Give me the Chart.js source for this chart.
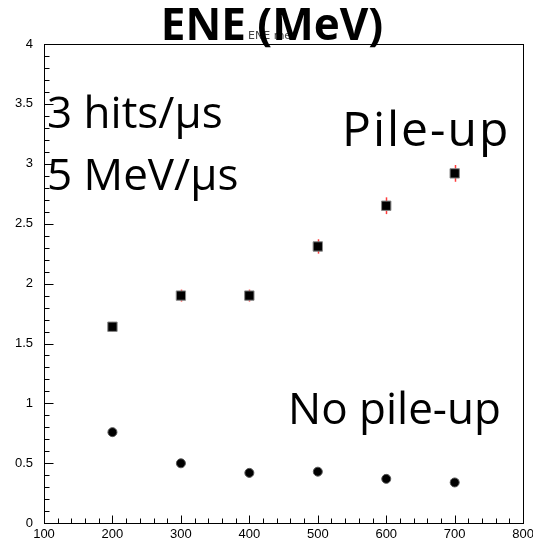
<!DOCTYPE html>
<html lang="en">
<head>
  <meta charset="UTF-8" />
  <title>ENE (MeV)</title>
  <script src="https://cdn.jsdelivr.net/npm/chart.js@4.4.8/dist/chart.umd.min.js"></script>
  <style>
    body { margin: 0; background: #fff; }
    #wrap { position: relative; width: 533px; height: 540px; overflow: hidden; }
    .note {
      position: absolute;
      white-space: nowrap;
      line-height: 1;
      font-family: 'Open Sans', sans-serif;
      font-size: 44px;
      color: #000;
    }
  </style>
</head>
<body>
  <div id="wrap">
    <!-- canvas a little larger than the window so the last x label gets cut like the original -->
    <canvas id="eneChart" width="537" height="542"></canvas>
    <div class="note" style="left:248px; top:30px; font-family:'DejaVu Sans',sans-serif; font-size:11px; color:#444;">ENE mev</div>
    <div class="note" style="left:272px; top:1px; transform:translateX(-50%); font-weight:700; font-size:44px;">ENE (MeV)</div>
    <div class="note" style="left:47px; top:89px;">3 hits/µs</div>
    <div class="note" style="left:47px; top:151px;">5 MeV/µs</div>
    <div class="note" style="left:342px; top:104px; font-size:48px; letter-spacing:2px;">Pile-up</div>
    <div class="note" style="left:288px; top:385px;">No pile-up</div>
  </div>

  <script>
    // values
    const energies  = [200, 300, 400, 500, 600, 700];
    const pileUp    = [1.64, 1.90, 1.90, 2.31, 2.65, 2.92];
    const pileUpErr = [0.04, 0.05, 0.05, 0.06, 0.07, 0.07];
    const noPileUp  = [0.76, 0.50, 0.42, 0.43, 0.37, 0.34];

    const xRange = [100, 800];
    const yRange = [0, 4];
    const xMajor = 100, xMinor = 20;
    const yMajor = 0.5, yMinor = 0.1;

    // ROOT style frame, inward ticks and the red error bars
    const rootFrame = {
      id: 'rootFrame',
      beforeDatasetsDraw(chart) {
        const { ctx, scales: { x, y } } = chart;
        ctx.save();
        ctx.strokeStyle = '#ff3b3b';
        ctx.lineWidth = 1.5;
        energies.forEach((e, i) => {
          const px = Math.round(x.getPixelForValue(e)) + 0.5;
          ctx.beginPath();
          ctx.moveTo(px, y.getPixelForValue(pileUp[i] - pileUpErr[i]));
          ctx.lineTo(px, y.getPixelForValue(pileUp[i] + pileUpErr[i]));
          ctx.stroke();
        });
        ctx.restore();
      },
      afterDraw(chart) {
        const { ctx, chartArea: a, scales: { x, y } } = chart;
        ctx.save();
        ctx.strokeStyle = '#000';
        ctx.lineWidth = 1;
        const l = Math.round(a.left) + 0.5, r = Math.round(a.right) + 0.5;
        const t = Math.round(a.top) + 0.5, b = Math.round(a.bottom) + 0.5;
        ctx.strokeRect(l, t, r - l, b - t);
        ctx.beginPath();
        for (let v = xRange[0]; v <= xRange[1] + 1e-6; v += xMinor) {
          const px = Math.round(x.getPixelForValue(v)) + 0.5;
          const len = Math.abs(v / xMajor - Math.round(v / xMajor)) < 1e-6 ? 8 : 5;
          ctx.moveTo(px, b);
          ctx.lineTo(px, b - len);
        }
        for (let v = yRange[0]; v <= yRange[1] + 1e-6; v += yMinor) {
          const py = Math.round(y.getPixelForValue(v)) + 0.5;
          const len = Math.abs(v / yMajor - Math.round(v / yMajor)) < 1e-6 ? 9 : 5;
          ctx.moveTo(l, py);
          ctx.lineTo(l + len, py);
        }
        ctx.stroke();
        ctx.restore();
      }
    };

    const tickFont = { family: "'Liberation Sans', sans-serif", size: 13 };

    new Chart(document.getElementById('eneChart'), {
      type: 'scatter',
      data: {
        datasets: [
          {
            label: 'Pile-up',
            data: energies.map((e, i) => ({ x: e, y: pileUp[i] })),
            pointStyle: 'rect',
            pointRadius: 6.6,
            backgroundColor: '#000',
            borderColor: '#888',
            borderWidth: 1
          },
          {
            label: 'No pile-up',
            data: energies.map((e, i) => ({ x: e, y: noPileUp[i] })),
            pointStyle: 'circle',
            pointRadius: 4.5,
            backgroundColor: '#000',
            borderColor: '#555',
            borderWidth: 1
          }
        ]
      },
      options: {
        responsive: false,
        animation: false,
        layout: { autoPadding: false, padding: { top: 44, right: 10, left: 0, bottom: 0 } },
        plugins: {
          legend: { display: false },
          tooltip: { enabled: false },
          title: { display: false }
        },
        scales: {
          x: {
            type: 'linear',
            min: xRange[0],
            max: xRange[1],
            grid: { display: false, drawTicks: false },
            border: { display: false },
            ticks: { stepSize: xMajor, color: '#000', font: tickFont, padding: 3, maxRotation: 0 },
            afterFit(scale) { scale.height = 17; }
          },
          y: {
            min: yRange[0],
            max: yRange[1],
            grid: { display: false, drawTicks: false },
            border: { display: false },
            ticks: {
              stepSize: yMajor,
              color: '#000',
              font: tickFont,
              padding: 11,
              callback: v => String(+v.toFixed(1))
            },
            afterFit(scale) { scale.width = 44; }
          }
        }
      },
      plugins: [rootFrame]
    });
  </script>
</body>
</html>
